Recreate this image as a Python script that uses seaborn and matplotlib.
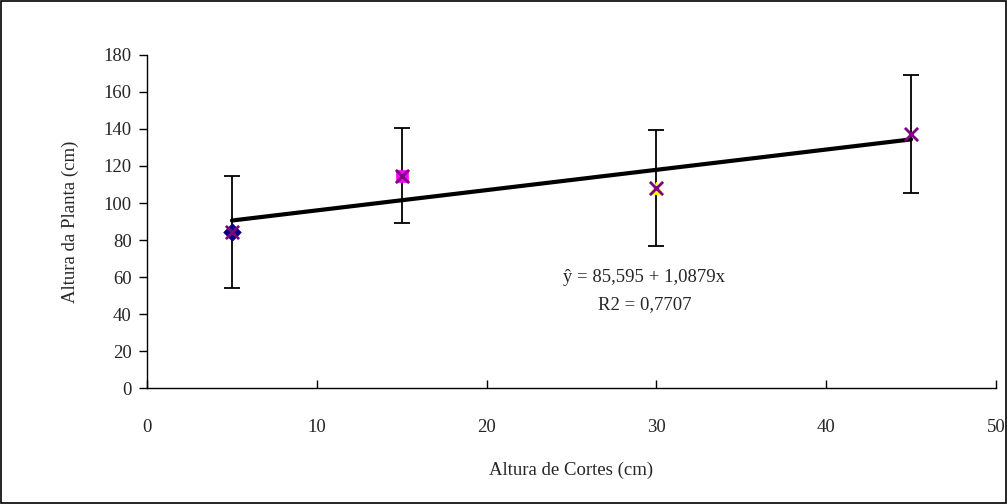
import matplotlib
matplotlib.use('Agg')
import matplotlib.pyplot as plt
import pandas as pd
import seaborn as sns

# data
altura_corte = [5, 15, 30, 45]
altura_planta = [84.3, 114.8, 107.9, 137.3]
erro = [30.2, 25.7, 31.3, 32.0]
# base markers (Excel default series) drawn under the purple x
base_markers = ['D', 's', '^', None]
base_colors = ['#000080', '#FF00FF', '#FFFF00', None]

equacao = 'ŷ = 85,595 + 1,0879x'
r2 = 'R2 = 0,7707'

sns.set_style('white')
plt.rcParams['font.family'] = ['Liberation Serif', 'DejaVu Serif']
plt.rcParams['font.size'] = 13.5

df = pd.DataFrame({'x': altura_corte, 'y': altura_planta, 'err': erro})

fig = plt.figure(figsize=(10.07, 5.04), dpi=100)
ax = fig.add_axes([0.146, 0.230, 0.843, 0.661])

ax.errorbar(df['x'], df['y'], yerr=df['err'], fmt='none', ecolor='black',
            elinewidth=1.3, capsize=5.5, capthick=1.3, zorder=2)

sns.regplot(data=df, x='x', y='y', ax=ax, scatter=False, ci=None,
            color='black', line_kws={'linewidth': 3, 'zorder': 3})

for xi, yi, m, c in zip(altura_corte, altura_planta, base_markers, base_colors):
    if m is None:
        continue
    ax.scatter([xi], [yi], marker=m, s=80, color=c, edgecolors=c,
               linewidths=0.5, zorder=4)
sns.scatterplot(data=df, x='x', y='y', ax=ax, marker='x', s=90,
                color='#800080', linewidth=2, zorder=5)

ax.text(29.3, 60, equacao, ha='center', va='center')
ax.text(29.3, 44.9, r2, ha='center', va='center')

ax.set_xlim(0, 50)
ax.set_ylim(0, 180)
ax.set_xticks(range(0, 51, 10))
ax.set_yticks(range(0, 181, 20))
ax.set_xlabel('Altura de Cortes (cm)', labelpad=19)
ax.set_ylabel('Altura da Planta (cm)', labelpad=17.5)
ax.tick_params(axis='x', bottom=True, direction='in', length=6, width=1,
               pad=22, color='black')
ax.tick_params(axis='y', left=True, direction='out', length=6, width=1,
               pad=5, color='black')
for side in ['top', 'right']:
    ax.spines[side].set_visible(False)
for side in ['left', 'bottom']:
    ax.spines[side].set_color('black')
    ax.spines[side].set_linewidth(1)

# outer border around the chart area
fig.patches.append(plt.Rectangle((0.001, 0.002), 0.998, 0.996,
                                 transform=fig.transFigure, fill=False,
                                 edgecolor='black', linewidth=1.2))

fig.savefig('out.png', dpi=100)
